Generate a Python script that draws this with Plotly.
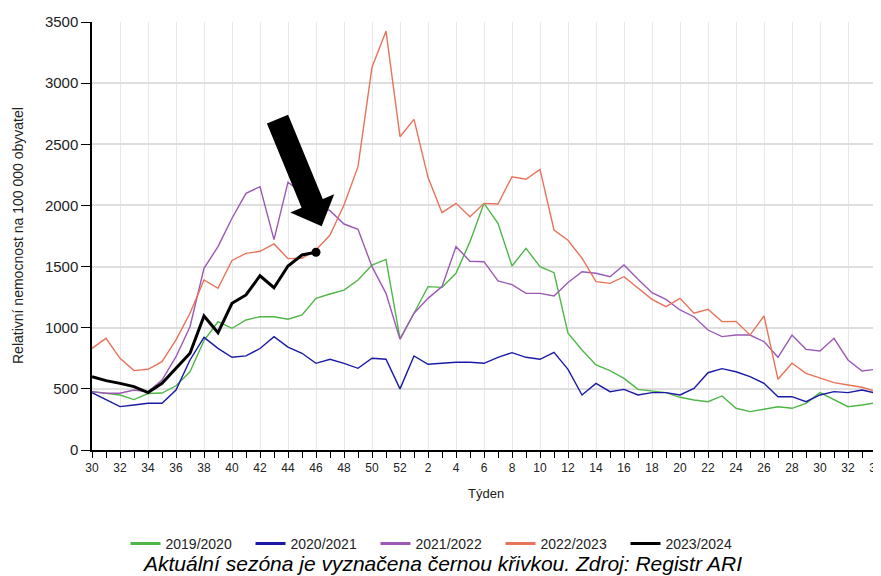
import plotly.graph_objects as go

# ---- data ----
week_labels = list(range(30, 53)) + list(range(1, 35))

s2019_2020 = [477, 464, 450, 412, 462, 466, 525, 640, 895, 1049, 995, 1063, 1090, 1090, 1069, 1104,
              1240, 1276, 1308, 1390, 1513, 1559, 910,
              1118, 1336, 1330, 1445, 1704, 2017, 1854, 1505, 1649, 1499, 1450, 955, 818, 695, 649,
              586, 496, 483, 469, 431, 409, 395, 442, 341, 314, 333, 354, 341, 382, 469, 409, 354, 368, 387]
s2020_2021 = [469, 409, 355, 368, 382, 382, 491, 736, 921, 831, 758, 770, 830, 927, 842, 791,
              709, 742, 709, 668, 750, 742, 500,
              769, 701, 709, 717, 717, 709, 758, 796, 758, 742, 799, 660, 450, 545, 477,
              496, 450, 469, 469, 450, 504, 632, 665, 640, 600, 545, 436, 436, 395, 450, 477, 469, 491, 464]
s2021_2022 = [477, 464, 464, 491, 477, 572, 763, 1008, 1486, 1663, 1895, 2099, 2153, 1720, 2190, 2100,
              2010, 1957, 1848, 1805, 1499, 1281, 905,
              1118, 1240, 1336, 1663, 1544, 1540, 1383, 1352, 1281, 1281, 1260, 1370, 1458, 1445, 1417,
              1513, 1396, 1286, 1232, 1145, 1090, 981, 927, 940, 940, 886, 758, 940, 823, 810, 913, 736, 646, 660]
s2022_2023 = [831, 913, 750, 649, 660, 722, 900, 1118, 1390, 1322, 1550, 1608, 1625, 1685, 1565, 1568,
              1636, 1758, 2004, 2317, 3130, 3425, 2562,
              2704, 2230, 1941, 2017, 1908, 2017, 2012, 2235, 2214, 2295, 1799, 1715, 1568, 1377, 1363,
              1417, 1322, 1232, 1172, 1240, 1118, 1151, 1050, 1052, 940, 1096, 578, 709, 627, 586, 551, 532, 513, 477]
s2023_2024 = [600, 567, 545, 518, 470, 545, 668, 791, 1096, 959, 1200, 1268, 1425, 1327, 1505, 1595, 1617]

seasons = ["2019/2020", "2020/2021", "2021/2022", "2022/2023", "2023/2024"]
colors = ["#4fb648", "#1a1aa6", "#9b59b6", "#e8735a", "#000000"]

x_idx = list(range(len(week_labels)))

# ---- layout constants (page pixels; the page body adds an 8px offset) ----
OFF = 8
W, H = 881, 576
PLOT_LEFT, PLOT_TOP, PLOT_BOTTOM = 92, 22, 450          # page pixels
ML = PLOT_LEFT - OFF
MT = PLOT_TOP - OFF
MB = H - (PLOT_BOTTOM - OFF)
MR = 0
plot_w = W - ML - MR
plot_h = H - MT - MB
px_per_week = 14.0
x_range = [0, plot_w / px_per_week]
y_range = [0, 3500]


def paper_x(page_px):
    return (page_px - PLOT_LEFT) / plot_w


def paper_y(page_py):
    return (PLOT_BOTTOM - page_py) / plot_h


fig = go.Figure()
series = [s2019_2020, s2020_2021, s2021_2022, s2022_2023, s2023_2024]
widths = [1.4, 1.4, 1.4, 1.4, 3]
for name, vals, col, lw in zip(seasons, series, colors, widths):
    fig.add_trace(go.Scatter(x=x_idx[:len(vals)], y=vals, mode="lines", name=name,
                             line=dict(color=col, width=lw), showlegend=False, legendgroup=name))
fig.add_trace(go.Scatter(x=[x_idx[len(s2023_2024) - 1]], y=[s2023_2024[-1]], mode="markers",
                         marker=dict(color="#000000", size=9), showlegend=False, hoverinfo="skip"))
# legend entries drawn with thicker sample lines
for name, col in zip(seasons, colors):
    fig.add_trace(go.Scatter(x=[None], y=[None], mode="lines", name=name,
                             line=dict(color=col, width=3), legendgroup=name, showlegend=True))

# ---- arrow (page-pixel polygon converted to data coordinates) ----
def to_data(px, py):
    xd = x_range[0] + paper_x(px) * (x_range[1] - x_range[0])
    yd = y_range[0] + paper_y(py) * (y_range[1] - y_range[0])
    return xd, yd

arrow_px = [(266.9, 123.6), (288.1, 114.8), (322.8, 199.0), (334.2, 194.3),
            (321.7, 226.2), (290.2, 212.5), (301.6, 207.8)]
pts = [to_data(a, b) for a, b in arrow_px]
path = "M " + " L ".join(f"{a:.4f},{b:.3f}" for a, b in pts) + " Z"
fig.add_shape(type="path", path=path, xref="x", yref="y", fillcolor="#000000",
              line=dict(color="#000000", width=0), layer="above")

tickvals = x_idx[::2]
ticktext = [str(week_labels[i]) for i in tickvals]

fig.update_layout(
    width=W, height=H,
    margin=dict(l=ML, r=MR, t=MT, b=MB, autoexpand=False),
    paper_bgcolor="white", plot_bgcolor="white",
    font=dict(family="Liberation Sans, Arial, sans-serif", color="#222222"),
    showlegend=True,
    legend=dict(orientation="h", xref="paper", yref="paper",
                x=paper_x(438), y=paper_y(544),
                xanchor="center", yanchor="middle", font=dict(size=14, color="#222222"),
                itemwidth=30, tracegroupgap=0, bgcolor="rgba(0,0,0,0)",
                entrywidth=80, entrywidthmode="pixels"),
    xaxis=dict(range=x_range, tickmode="array", tickvals=tickvals, ticktext=ticktext,
               showgrid=True, gridcolor="#e8e8e8", gridwidth=1, automargin=False,
               showline=True, linecolor="#000000", linewidth=1.5,
               ticks="outside", ticklen=6, tickcolor="#000000", tickwidth=1.2,
               ticklabeloverflow="allow",
               tickfont=dict(size=12, color="#222222"), zeroline=False,
               minor=dict(tickmode="array", tickvals=x_idx, ticks="outside", ticklen=6,
                          tickcolor="#000000", tickwidth=1.2, showgrid=False)),
    yaxis=dict(range=y_range, tickmode="linear", tick0=0, dtick=500, automargin=False,
               showgrid=True, gridcolor="#dedede", gridwidth=1.5,
               showline=True, linecolor="#000000", linewidth=1.5,
               ticks="outside", ticklen=9, tickcolor="#000000", tickwidth=1.2,
               tickfont=dict(size=15, color="#222222"), zeroline=False),
)

fig.add_annotation(text="Relativní nemocnost na 100 000 obyvatel", textangle=-90,
                   xref="paper", yref="paper", x=paper_x(18), y=paper_y(236),
                   xanchor="center", yanchor="middle",
                   showarrow=False, font=dict(size=14, color="#222222"))
fig.add_annotation(text="Týden", xref="paper", yref="paper",
                   x=paper_x(486), y=paper_y(494), xanchor="center", yanchor="middle",
                   showarrow=False, font=dict(size=13, color="#222222"))
fig.add_annotation(text="<i>Aktuální sezóna je vyznačena černou křivkou. Zdroj: Registr ARI</i>",
                   xref="paper", yref="paper", xanchor="center", yanchor="middle",
                   x=paper_x(442), y=paper_y(563),
                   showarrow=False, font=dict(size=21, color="#000000"))

fig.write_html("out.html")
